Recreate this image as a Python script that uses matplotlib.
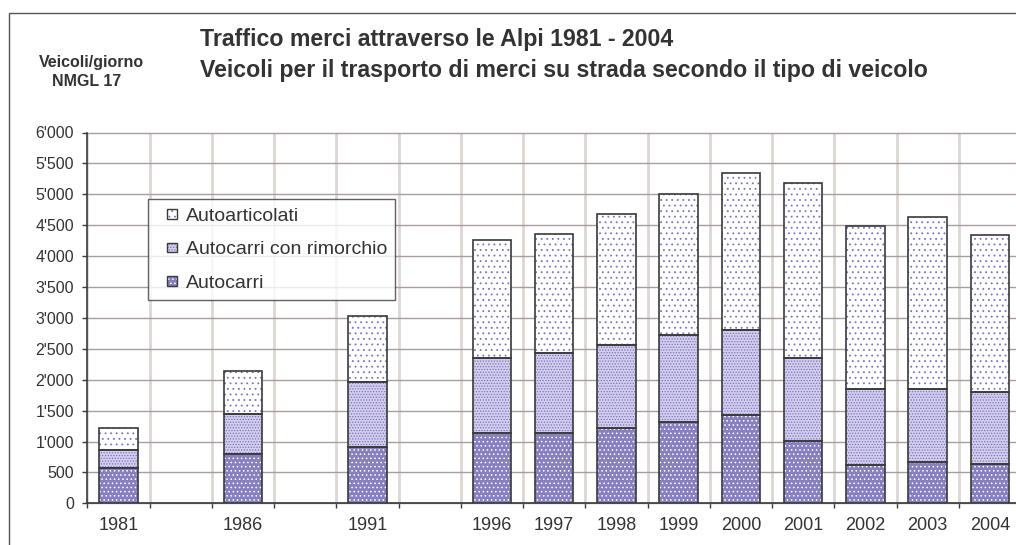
import matplotlib
matplotlib.use("Agg")
from matplotlib import pyplot as plt
from matplotlib.patches import Patch, Rectangle
from matplotlib.legend_handler import HandlerTuple, HandlerPatch
import numpy as np

plt.rcParams['font.family'] = ['Liberation Sans', 'DejaVu Sans']
plt.rcParams['hatch.linewidth'] = 0.6

# dati (veicoli/giorno)
anni = ['1981', '1986', '1991', '1996', '1997', '1998', '1999', '2000',
        '2001', '2002', '2003', '2004']
# posizione delle categorie sull'asse (slot vuoti tra 1981, 1986, 1991, 1996)
slot = [0, 2, 4, 6, 7, 8, 9, 10, 11, 12, 13, 14]
n_slot = 15
autocarri = [575, 790, 908, 1130, 1130, 1222, 1319, 1422, 1009, 620, 669, 642]
autocarri_rimorchio = [285, 651, 1054, 1221, 1297, 1345, 1400, 1389, 1349, 1225, 1176, 1155]
autoarticolati = [360, 705, 1065, 1903, 1924, 2119, 2281, 2529, 2822, 2639, 2785, 2547]

y_ticks = [0, 500, 1000, 1500, 2000, 2500, 3000, 3500, 4000, 4500, 5000, 5500, 6000]
y_labels = ["0", "500", "1'000", "1'500", "2'000", "2'500", "3'000", "3'500",
            "4'000", "4'500", "5'000", "5'500", "6'000"]

viola = '#8780bf'
viola_punti = '#7c72c4'
lavanda = '#d2ceec'
bordo = '#3a3a3a'
testo = '#333333'

fig = plt.figure(figsize=(10.16, 5.45), dpi=100)
W, H = 1016.0, 545.0
ax = fig.add_axes([87.3 / W, (H - 503.3) / H, 933.7 / W, 370.8 / H])

x = np.array(slot)
larg = 0.62
b1 = np.array(autocarri)
b2 = b1 + np.array(autocarri_rimorchio)

# riempimenti con motivo, poi bordo
ax.bar(x, autocarri, larg, color=viola, hatch='....', edgecolor='white', lw=0, zorder=3)
ax.bar(x, autocarri_rimorchio, larg, bottom=b1, color=lavanda, hatch='......',
       edgecolor=viola_punti, lw=0, zorder=3)
ax.bar(x, autoarticolati, larg, bottom=b2, color='white', hatch='...',
       edgecolor=viola_punti, lw=0, zorder=3)
for vals, bot in [(autocarri, 0), (autocarri_rimorchio, b1), (autoarticolati, b2)]:
    ax.bar(x, vals, larg, bottom=bot, fill=False, edgecolor=bordo, lw=1.2, zorder=4)

ax.set_xlim(-0.5, n_slot - 0.5)
ax.set_ylim(0, 6000)

ax.set_yticks(y_ticks)
ax.set_yticklabels(y_labels, fontsize=11.5, color=testo)
ax.set_xticks(x)
ax.set_xticklabels(anni, fontsize=13, color=testo)
ax.set_xticks(np.arange(-0.5, n_slot, 1.0), minor=True)
ax.tick_params(axis='x', which='major', length=0, pad=10)
ax.tick_params(axis='x', which='minor', length=3.6, width=1, color=bordo, direction='out')
ax.tick_params(axis='y', length=3.6, width=1, color=bordo, pad=6)

ax.yaxis.grid(True, color='#a89e9e', lw=1.0, zorder=1)
ax.xaxis.grid(True, which='minor', color='#ddd6d4', lw=2.0, zorder=0)
ax.xaxis.grid(False, which='major')
for g in ax.get_ygridlines():
    g.set_clip_on(False)
ax.set_axisbelow(True)

for s in ['top', 'right']:
    ax.spines[s].set_visible(False)
for s in ['left', 'bottom']:
    ax.spines[s].set_color(bordo)
    ax.spines[s].set_linewidth(1.2)


# quadratino della legenda spostato a destra nello spazio del simbolo
def quadratino(legend, orig_handle, xdescent, ydescent, width, height, fontsize):
    s = 6.8
    return Rectangle((-xdescent + width - s, -ydescent + (height - s) / 2), s, s)


h1 = (Patch(facecolor='white', hatch='...', edgecolor=viola_punti, lw=0),
      Patch(fill=False, edgecolor=bordo, lw=1))
h2 = (Patch(facecolor=lavanda, hatch='......', edgecolor=viola_punti, lw=0),
      Patch(fill=False, edgecolor=bordo, lw=1))
h3 = (Patch(facecolor=viola, hatch='....', edgecolor='white', lw=0),
      Patch(fill=False, edgecolor=bordo, lw=1))
leg = fig.legend([h1, h2, h3], ['Autoarticolati', 'Autocarri con rimorchio', 'Autocarri'],
                 handler_map={tuple: HandlerTuple(ndivide=1),
                              Patch: HandlerPatch(patch_func=quadratino)},
                 loc='upper left', bbox_to_anchor=(148 / W, 1 - 199 / H),
                 frameon=True, fancybox=False, shadow=False, fontsize=14,
                 handlelength=1.06, handleheight=0.7, handletextpad=0.45,
                 labelspacing=0.82, borderpad=0.42, borderaxespad=0)
leg.get_frame().set_edgecolor(bordo)
leg.get_frame().set_linewidth(1.0)
for t in leg.get_texts():
    t.set_color(testo)

# cornice esterna
fig.patches.append(Rectangle((9 / W, -0.1), 1.2, 1.1 - 12.7 / H, fill=False,
                             edgecolor='#555555', lw=1.0, transform=fig.transFigure))

fig.text(200 / W, 1 - 45.7 / H, 'Traffico merci attraverso le Alpi 1981 - 2004',
         fontsize=16.7, fontweight='bold', color=testo, va='baseline')
fig.text(200 / W, 1 - 76.7 / H,
         'Veicoli per il trasporto di merci su strada secondo il tipo di veicolo',
         fontsize=16.7, fontweight='bold', color=testo, va='baseline')
fig.text(91 / W, 1 - 66.7 / H, 'Veicoli/giorno', fontsize=11.5, fontweight='bold',
         color=testo, ha='center', va='baseline')
fig.text(87 / W, 1 - 85.7 / H, 'NMGL 17', fontsize=11.5, fontweight='bold',
         color=testo, ha='center', va='baseline')

fig.savefig('out.png', dpi=100)
